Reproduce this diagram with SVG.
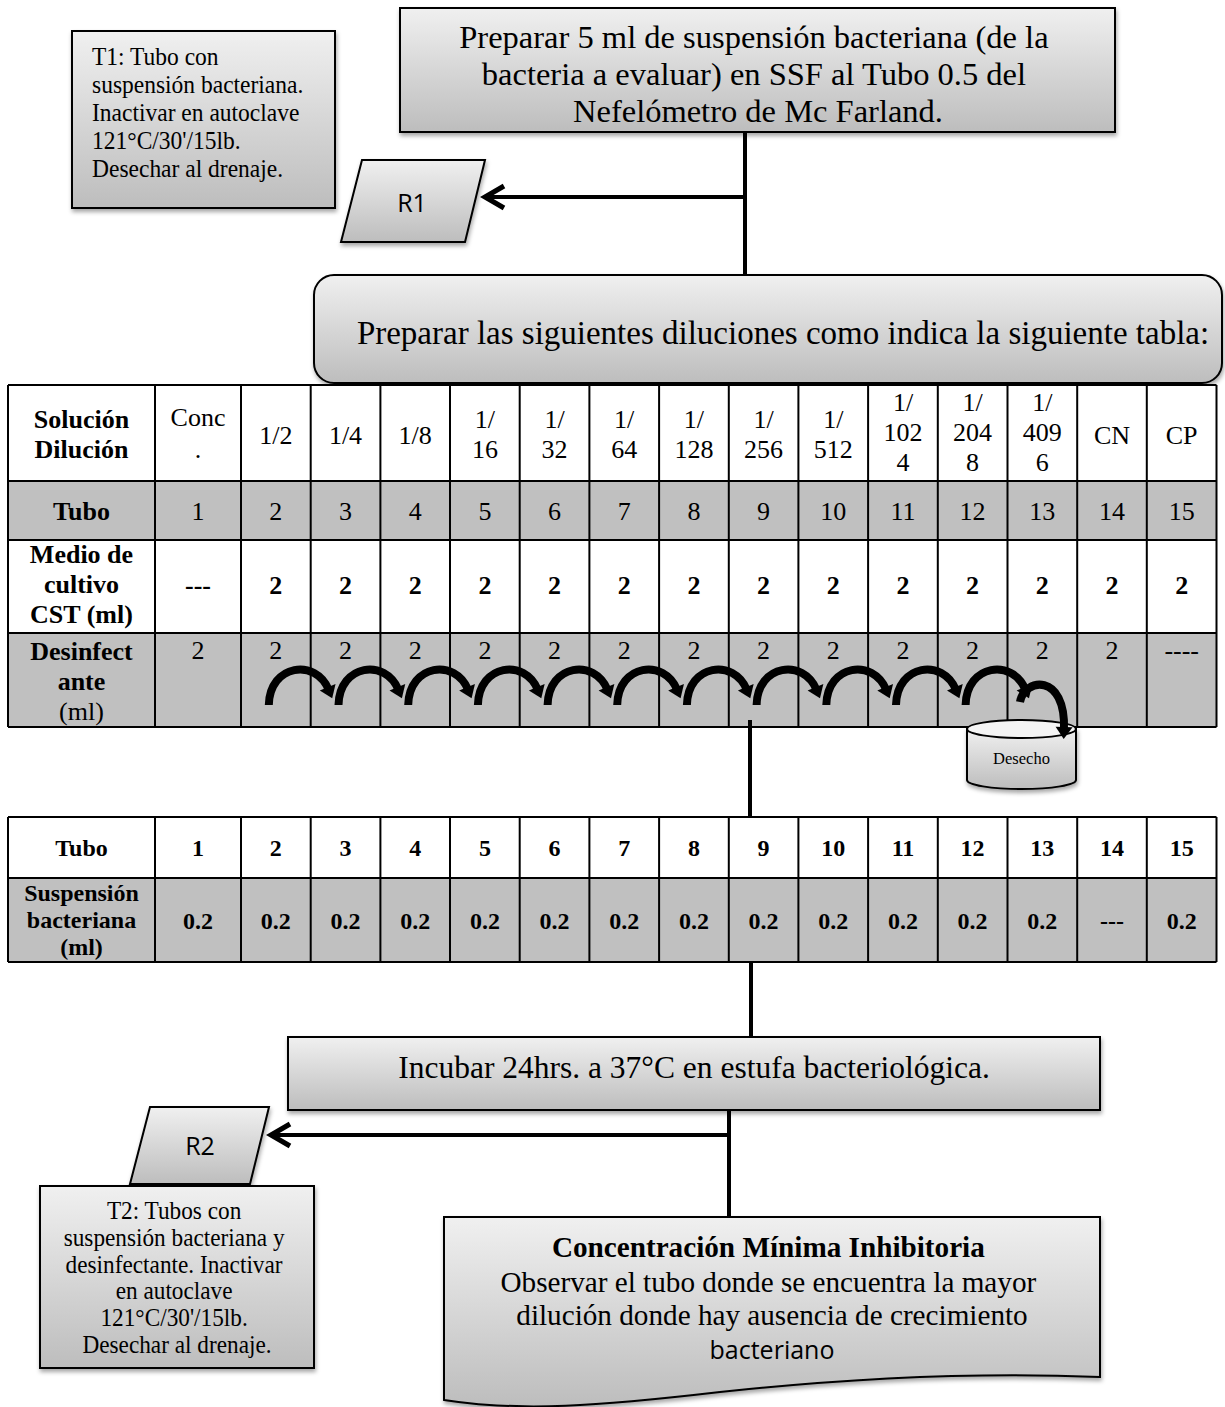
<svg xmlns="http://www.w3.org/2000/svg" xmlns:xlink="http://www.w3.org/1999/xlink" width="1225" height="1407" viewBox="0 0 1225 1407">
  <defs>
    <linearGradient id="boxFill" x1="0" y1="0" x2="0" y2="1">
      <stop offset="0" stop-color="#f0f0f0"/>
      <stop offset="1" stop-color="#bdbdbd"/>
    </linearGradient>
    <filter id="shadow" x="-10%" y="-10%" width="125%" height="140%">
      <feDropShadow dx="1" dy="3" stdDeviation="2" flood-color="#000" flood-opacity="0.35"/>
    </filter>
    <!-- open chevron for the residue arrows -->
    <marker id="chevron" markerUnits="userSpaceOnUse" markerWidth="34" markerHeight="34" viewBox="-26 -17 34 34" refX="0" refY="0" orient="auto">
      <path d="M-19,-11 L0,0 L-19,11" fill="none" stroke="#000" stroke-width="5"/>
    </marker>
    <!-- head of the curved transfer arrows -->
    <marker id="arcHead" markerUnits="userSpaceOnUse" markerWidth="24" markerHeight="24" viewBox="-8 -12 24 24" refX="0" refY="0" orient="auto">
      <path d="M-3,-8.5 L9,0 L-3,8.5 Z" fill="#000"/>
    </marker>
    <!-- one serial-dilution transfer, placed by x at the source column centre -->
    <path id="hop" class="arc" d="M-7,705 C-6,664 40,658 53,690" marker-end="url(#arcHead)"/>
  </defs>
  <style>
    .box{fill:url(#boxFill);stroke:#000;stroke-width:2;filter:url(#shadow)}
    .t{font-family:"Liberation Serif","Times New Roman",serif;fill:#000}
    .s{font-family:"Open Sans","Liberation Sans",sans-serif;fill:#000}
    .c{text-anchor:middle}
    .b{font-weight:bold}
    .gray{fill:#c0c0c0}
    .white{fill:#fff}
    .grid{stroke:#000;stroke-width:2;fill:none}
    .conn{stroke:#000;stroke-width:4;fill:none}
    .arc{stroke:#000;stroke-width:8;fill:none}
    .tb{font-size:26px}
    .tb2{font-size:24px}
  </style>

  <rect width="1225" height="1407" fill="#fff"/>

  <!-- T1 note -->
  <g id="t1">
    <rect class="box" x="72" y="31" width="263" height="177"/>
    <text class="t" font-size="25" transform="translate(92 0) scale(0.94 1)">
      <tspan x="0" y="65">T1: Tubo con</tspan>
      <tspan x="0" y="93">suspensión bacteriana.</tspan>
      <tspan x="0" y="121">Inactivar en autoclave</tspan>
      <tspan x="0" y="149">121°C/30'/15lb.</tspan>
      <tspan x="0" y="177">Desechar al drenaje.</tspan>
    </text>
  </g>

  <!-- Step 1 -->
  <g id="preparar-suspension">
    <rect class="box" x="400" y="8" width="715" height="124"/>
    <text class="t c" font-size="32.5">
      <tspan x="758" y="48">Preparar 5 ml de suspensión bacteriana (de la</tspan>
      <tspan x="758" y="85">bacteria a evaluar) en SSF al Tubo 0.5 del</tspan>
      <tspan x="758" y="122">Nefelómetro de Mc Farland.</tspan>
    </text>
  </g>

  <!-- R1 residue -->
  <g id="r1">
    <polygon class="box" points="362,160 485,160 465,242 341,242"/>
    <text class="s c" x="412" y="212" font-size="25">R1</text>
  </g>

  <!-- Step 2 -->
  <g id="preparar-diluciones">
    <rect class="box" x="314" y="275" width="908" height="108" rx="20" ry="20"/>
    <text class="t c" x="783" y="344" font-size="33">Preparar las siguientes diluciones como indica la siguiente tabla:</text>
  </g>

  <!-- Dilution table -->
  <g id="tabla-diluciones">
    <rect class="white" x="8" y="385" width="1208.5" height="96"/>
    <rect class="gray" x="8" y="481" width="1208.5" height="59"/>
    <rect class="white" x="8" y="540" width="1208.5" height="93"/>
    <rect class="gray" x="8" y="633" width="1208.5" height="94"/>
    <path class="grid" d="M8,385 H1216.5 M8,481 H1216.5 M8,540 H1216.5 M8,633 H1216.5 M8,727 H1216.5
      M8,385 V727 M155,385 V727 M241,385 V727 M310.7,385 V727 M380.4,385 V727 M450,385 V727 M519.7,385 V727
      M589.4,385 V727 M659.1,385 V727 M728.8,385 V727 M798.4,385 V727 M868.1,385 V727 M937.8,385 V727
      M1007.5,385 V727 M1077.2,385 V727 M1146.8,385 V727 M1216.5,385 V727"/>

    <g class="t tb c">
      <!-- header row -->
      <text class="b"><tspan x="81.5" y="428">Solución</tspan><tspan x="81.5" y="458">Dilución</tspan></text>
      <text><tspan x="198" y="426">Conc</tspan><tspan x="198" y="458">.</tspan></text>
      <text x="275.8" y="444">1/2</text>
      <text x="345.5" y="444">1/4</text>
      <text x="415.2" y="444">1/8</text>
      <text><tspan x="484.9" y="428">1/</tspan><tspan x="484.9" y="458">16</tspan></text>
      <text><tspan x="554.6" y="428">1/</tspan><tspan x="554.6" y="458">32</tspan></text>
      <text><tspan x="624.2" y="428">1/</tspan><tspan x="624.2" y="458">64</tspan></text>
      <text><tspan x="693.9" y="428">1/</tspan><tspan x="693.9" y="458">128</tspan></text>
      <text><tspan x="763.6" y="428">1/</tspan><tspan x="763.6" y="458">256</tspan></text>
      <text><tspan x="833.3" y="428">1/</tspan><tspan x="833.3" y="458">512</tspan></text>
      <text><tspan x="903" y="411">1/</tspan><tspan x="903" y="441">102</tspan><tspan x="903" y="471">4</tspan></text>
      <text><tspan x="972.6" y="411">1/</tspan><tspan x="972.6" y="441">204</tspan><tspan x="972.6" y="471">8</tspan></text>
      <text><tspan x="1042.3" y="411">1/</tspan><tspan x="1042.3" y="441">409</tspan><tspan x="1042.3" y="471">6</tspan></text>
      <text x="1112" y="444">CN</text>
      <text x="1181.7" y="444">CP</text>

      <!-- Tubo row -->
      <text class="b" x="81.5" y="520">Tubo</text>
      <text y="520"><tspan x="198">1</tspan><tspan x="275.8">2</tspan><tspan x="345.5">3</tspan><tspan x="415.2">4</tspan><tspan x="484.9">5</tspan><tspan x="554.6">6</tspan><tspan x="624.2">7</tspan><tspan x="693.9">8</tspan><tspan x="763.6">9</tspan><tspan x="833.3">10</tspan><tspan x="903">11</tspan><tspan x="972.6">12</tspan><tspan x="1042.3">13</tspan><tspan x="1112">14</tspan><tspan x="1181.7">15</tspan></text>

      <!-- culture medium row -->
      <text class="b"><tspan x="81.5" y="563">Medio de</tspan><tspan x="81.5" y="593">cultivo</tspan><tspan x="81.5" y="623">CST (ml)</tspan></text>
      <text class="b" y="594"><tspan x="198">---</tspan><tspan x="275.8">2</tspan><tspan x="345.5">2</tspan><tspan x="415.2">2</tspan><tspan x="484.9">2</tspan><tspan x="554.6">2</tspan><tspan x="624.2">2</tspan><tspan x="693.9">2</tspan><tspan x="763.6">2</tspan><tspan x="833.3">2</tspan><tspan x="903">2</tspan><tspan x="972.6">2</tspan><tspan x="1042.3">2</tspan><tspan x="1112">2</tspan><tspan x="1181.7">2</tspan></text>

      <!-- disinfectant row -->
      <text><tspan class="b" x="81.5" y="660">Desinfect</tspan><tspan class="b" x="81.5" y="690">ante</tspan><tspan x="81.5" y="720">(ml)</tspan></text>
      <text y="659"><tspan x="198">2</tspan><tspan x="275.8">2</tspan><tspan x="345.5">2</tspan><tspan x="415.2">2</tspan><tspan x="484.9">2</tspan><tspan x="554.6">2</tspan><tspan x="624.2">2</tspan><tspan x="693.9">2</tspan><tspan x="763.6">2</tspan><tspan x="833.3">2</tspan><tspan x="903">2</tspan><tspan x="972.6">2</tspan><tspan x="1042.3">2</tspan><tspan x="1112">2</tspan><tspan x="1181.7">----</tspan></text>
    </g>
  </g>

  <!-- waste container -->
  <g id="desecho">
    <path class="box" d="M967,729 V780 A54.5,9 0 0 0 1076,780 V729 Z"/>
    <ellipse cx="1021.5" cy="729" rx="54.5" ry="9" fill="#f4f4f4" stroke="#000" stroke-width="2"/>
    <text class="t c" x="1021.5" y="764" font-size="16.5">Desecho</text>
  </g>

  <!-- inoculum table -->
  <g id="tabla-inoculo">
    <rect class="white" x="8" y="817" width="1208.5" height="61"/>
    <rect class="gray" x="8" y="878" width="1208.5" height="84"/>
    <path class="grid" d="M8,817 H1216.5 M8,878 H1216.5 M8,962 H1216.5
      M8,817 V962 M155,817 V962 M241,817 V962 M310.7,817 V962 M380.4,817 V962 M450,817 V962 M519.7,817 V962
      M589.4,817 V962 M659.1,817 V962 M728.8,817 V962 M798.4,817 V962 M868.1,817 V962 M937.8,817 V962
      M1007.5,817 V962 M1077.2,817 V962 M1146.8,817 V962 M1216.5,817 V962"/>
    <g class="t tb2 c b">
      <text y="856"><tspan x="81.5">Tubo</tspan><tspan x="198">1</tspan><tspan x="275.8">2</tspan><tspan x="345.5">3</tspan><tspan x="415.2">4</tspan><tspan x="484.9">5</tspan><tspan x="554.6">6</tspan><tspan x="624.2">7</tspan><tspan x="693.9">8</tspan><tspan x="763.6">9</tspan><tspan x="833.3">10</tspan><tspan x="903">11</tspan><tspan x="972.6">12</tspan><tspan x="1042.3">13</tspan><tspan x="1112">14</tspan><tspan x="1181.7">15</tspan></text>
      <text><tspan x="81.5" y="901">Suspensión</tspan><tspan x="81.5" y="928">bacteriana</tspan><tspan x="81.5" y="955">(ml)</tspan></text>
      <text y="929"><tspan x="198">0.2</tspan><tspan x="275.8">0.2</tspan><tspan x="345.5">0.2</tspan><tspan x="415.2">0.2</tspan><tspan x="484.9">0.2</tspan><tspan x="554.6">0.2</tspan><tspan x="624.2">0.2</tspan><tspan x="693.9">0.2</tspan><tspan x="763.6">0.2</tspan><tspan x="833.3">0.2</tspan><tspan x="903">0.2</tspan><tspan x="972.6">0.2</tspan><tspan x="1042.3">0.2</tspan><tspan x="1112">---</tspan><tspan x="1181.7">0.2</tspan></text>
    </g>
  </g>

  <!-- Step 3 -->
  <g id="incubar">
    <rect class="box" x="288" y="1037" width="812" height="73"/>
    <text class="t c" x="694" y="1078" font-size="31.5">Incubar 24hrs. a 37°C en estufa bacteriológica.</text>
  </g>

  <!-- R2 residue -->
  <g id="r2">
    <polygon class="box" points="150,1107 269,1107 250,1184 130,1184"/>
    <text class="s c" x="200" y="1155" font-size="25">R2</text>
  </g>

  <!-- T2 note -->
  <g id="t2">
    <rect class="box" x="40" y="1186" width="274" height="182"/>
    <text class="t c" font-size="24.5" transform="translate(177 0) scale(0.95 1)">
      <tspan x="0" y="1219">T2: Tubos con</tspan>
      <tspan x="0" y="1246">suspensión bacteriana y</tspan>
      <tspan x="0" y="1273">desinfectante. Inactivar</tspan>
      <tspan x="0" y="1299">en autoclave</tspan>
      <tspan x="0" y="1326">121°C/30'/15lb.</tspan>
      <tspan x="0" y="1353">Desechar al drenaje.</tspan>
    </text>
  </g>

  <!-- Result document -->
  <g id="cmi">
    <path class="box" d="M444,1217 H1100 V1377 C980,1372 860,1377 720,1392 C600,1406 520,1412 444,1400 Z"/>
    <text class="t c" font-size="29.2">
      <tspan class="b" x="772" y="1257">Concentración Mínima Inhibitoria</tspan>
      <tspan x="772" y="1292">Observar el tubo donde se encuentra la mayor</tspan>
      <tspan x="772" y="1325">dilución donde hay ausencia de crecimiento</tspan>
    </text>
    <text class="s c" x="772" y="1359" font-size="25">bacteriano</text>
  </g>

  <!-- connectors -->
  <g id="connectors">
    <path class="conn" d="M745,132 V275"/>
    <path class="conn" d="M745,197 H485" marker-end="url(#chevron)"/>
    <path class="conn" d="M750,720 V817"/>
    <path class="conn" d="M751,962 V1037"/>
    <path class="conn" d="M729,1110 V1217"/>
    <path class="conn" d="M729,1135 H271" marker-end="url(#chevron)"/>

    <!-- serial transfers between dilution tubes -->
    <use xlink:href="#hop" x="275.8"/>
    <use xlink:href="#hop" x="345.5"/>
    <use xlink:href="#hop" x="415.2"/>
    <use xlink:href="#hop" x="484.9"/>
    <use xlink:href="#hop" x="554.6"/>
    <use xlink:href="#hop" x="624.2"/>
    <use xlink:href="#hop" x="693.9"/>
    <use xlink:href="#hop" x="763.6"/>
    <use xlink:href="#hop" x="833.3"/>
    <use xlink:href="#hop" x="903"/>
    <use xlink:href="#hop" x="972.6"/>
    <!-- last tube into the waste -->
    <path class="arc" d="M1020,702 C1024,678 1066,672 1064,730" marker-end="url(#arcHead)"/>
  </g>
</svg>
